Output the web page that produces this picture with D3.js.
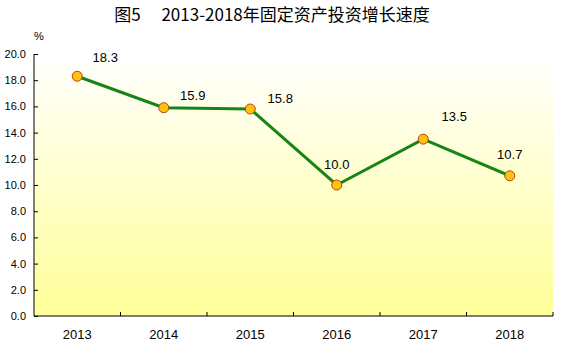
<!DOCTYPE html>
<html>
<head>
<meta charset="utf-8">
<script src="https://cdn.jsdelivr.net/npm/d3@7"></script>
<style>
  body { margin: 0; background: #fff; }
</style>
</head>
<body>
<div id="chart-area"></div>
<script>
    // chart data
    const years = ["2013", "2014", "2015", "2016", "2017", "2018"]
    const growth = [18.3, 15.9, 15.8, 10.0, 13.5, 10.7]
    const yTicks = [0, 2, 4, 6, 8, 10, 12, 14, 16, 18, 20]
    // label offsets relative to the point
    const labelDx = [28, 29, 30, 0, 31, 0]
    const labelDy = [-19, -12, -11, -21, -23, -21]

    const margin = { left: 34, right: 12, top: 54, bottom: 35 }
    const svgWidth = 565
    const svgHeight = 351
    const chartWidth = svgWidth - margin.left - margin.right
    const chartHeight = svgHeight - margin.top - margin.bottom

    const svg = d3.select("#chart-area")
      .append("svg")
      .attr("width", svgWidth)
      .attr("height", svgHeight)

    const defs = svg.append("defs")
    const grad = defs.append("linearGradient")
      .attr("id", "bg")
      .attr("x1", 0).attr("y1", 0)
      .attr("x2", 0).attr("y2", 1)
    grad.append("stop").attr("offset", "0%").attr("stop-color", "#ffffff")
    grad.append("stop").attr("offset", "100%").attr("stop-color", "#ffff99")

    svg.append("text")
      .attr("x", 272)
      .attr("y", 21)
      .attr("text-anchor", "middle")
      .attr("font-family", "'Noto Sans CJK SC', sans-serif")
      .attr("font-size", 17)
      .attr("fill", "#000")
      .text("图5\u3000 2013-2018年固定资产投资增长速度")

    svg.append("text")
      .attr("x", 39)
      .attr("y", 40)
      .attr("text-anchor", "middle")
      .attr("font-family", "'Liberation Sans', Arial, sans-serif")
      .attr("font-size", 11)
      .text("%")

    const chart = svg.append("g")
      .attr("transform", `translate(${margin.left},${margin.top})`)

    const xScale = d3.scaleBand()
      .domain(years)
      .range([0, chartWidth])

    const yScale = d3.scaleLinear()
      .domain([0, 20])
      .range([chartHeight, 0])

    chart.append("rect")
      .attr("x", 0)
      .attr("y", 0)
      .attr("width", chartWidth)
      .attr("height", chartHeight)
      .attr("fill", "url(#bg)")

    // y axis
    const yAxis = chart.append("g")
      .call(d3.axisLeft(yScale).tickValues(yTicks).tickSize(-4).tickPadding(8).tickFormat(d3.format(".1f")))
    yAxis.select(".domain").attr("stroke", "#000").attr("d", `M0,0V${chartHeight}`)
    yAxis.selectAll("text")
      .attr("font-family", "'Liberation Sans', Arial, sans-serif")
      .attr("font-size", 11)
      .attr("fill", "#000")

    // x axis with ticks at band edges
    const xAxis = chart.append("g")
      .attr("transform", `translate(0,${chartHeight})`)
    xAxis.append("line")
      .attr("x1", 0).attr("x2", chartWidth)
      .attr("stroke", "#000")
    xAxis.selectAll(".edge")
      .data(years)
      .join("line")
      .attr("class", "edge")
      .attr("x1", d => xScale(d) + xScale.bandwidth())
      .attr("x2", d => xScale(d) + xScale.bandwidth())
      .attr("y1", 0).attr("y2", -4)
      .attr("stroke", "#000")
    xAxis.selectAll("text")
      .data(years)
      .join("text")
      .attr("x", d => xScale(d) + xScale.bandwidth() / 2)
      .attr("y", 23)
      .attr("text-anchor", "middle")
      .attr("font-family", "'Liberation Sans', Arial, sans-serif")
      .attr("font-size", 13)
      .attr("fill", "#000")
      .text(d => d)

    const cx = (d, i) => xScale(years[i]) + xScale.bandwidth() / 2

    const line = d3.line()
      .x(cx)
      .y(d => yScale(d))

    chart.append("path")
      .datum(growth)
      .attr("d", line)
      .attr("fill", "none")
      .attr("stroke", "#168416")
      .attr("stroke-width", 3)

    chart.append("g")
      .selectAll("circle")
      .data(growth)
      .join("circle")
      .attr("cx", cx)
      .attr("cy", d => yScale(d))
      .attr("r", 5)
      .attr("fill", "#ffc20e")
      .attr("stroke", "#b8410e")
      .attr("stroke-width", 1)

    chart.append("g")
      .selectAll("text")
      .data(growth)
      .join("text")
      .attr("x", (d, i) => cx(d, i) + labelDx[i])
      .attr("y", (d, i) => yScale(d) + labelDy[i])
      .attr("dy", "0.35em")
      .attr("text-anchor", "middle")
      .attr("font-family", "'Liberation Sans', Arial, sans-serif")
      .attr("font-size", 13)
      .attr("fill", "#000")
      .text(d => d.toFixed(1))
</script>
</body>
</html>
